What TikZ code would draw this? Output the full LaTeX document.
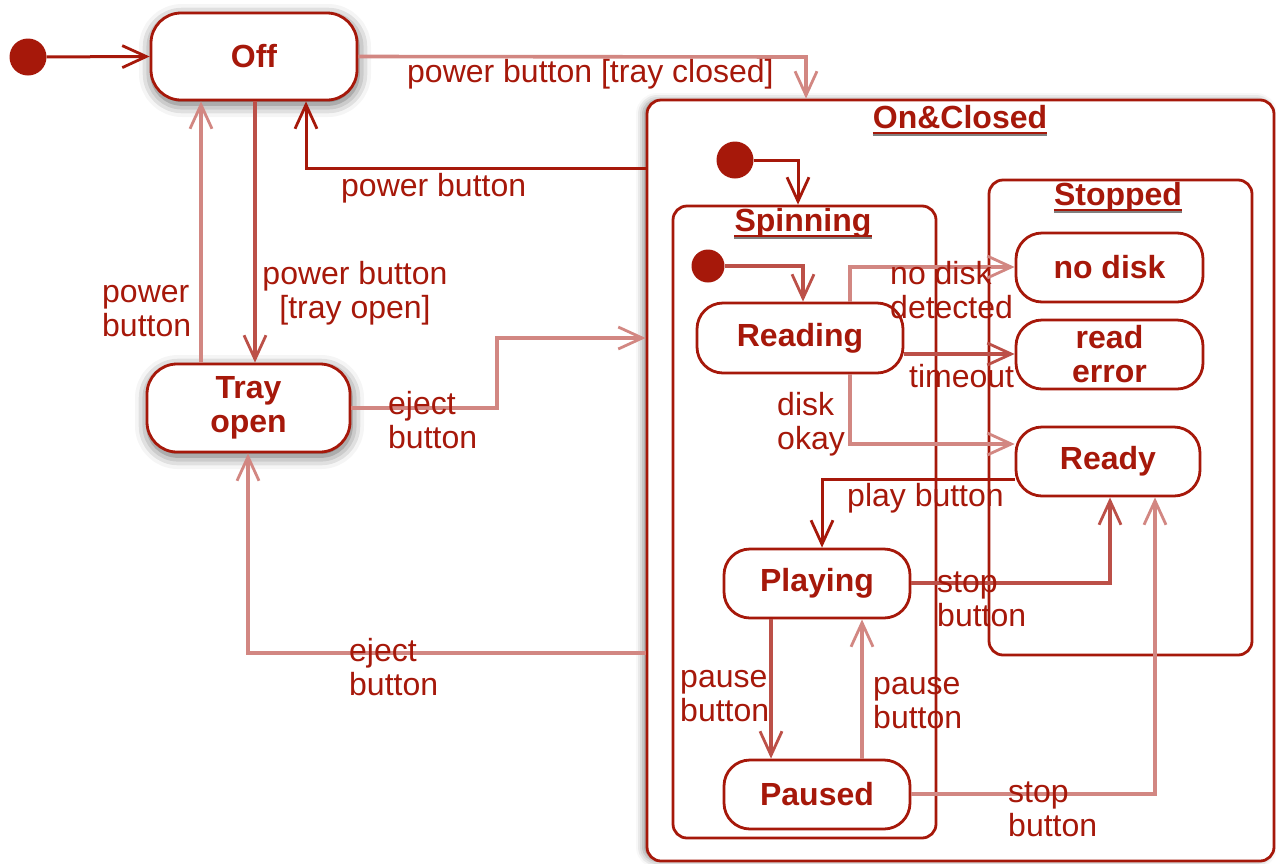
\documentclass[tikz,border=0pt]{standalone}
\usepackage{fontspec}
\setmainfont{Liberation Sans}
\usetikzlibrary{arrows.meta,shadows.blur}
\definecolor{dred}{RGB}{166,24,10}
\definecolor{lred}{RGB}{210,135,130}
\definecolor{mred}{RGB}{188,80,72}
\tikzset{
  every node/.style={font=\fontsize{32}{34}\selectfont},
  st/.style={draw=dred, line width=2.8pt, rounded corners=26pt, fill=white, text=dred,
    font=\fontsize{32}{34}\selectfont\bfseries, align=center, inner sep=0pt},
  comp/.style={draw=dred, line width=2.8pt, rounded corners=14pt, inner sep=0pt},
  ttl/.style={text=dred, font=\fontsize{32}{34}\selectfont\bfseries, inner sep=0pt},
  initd/.style={circle, fill=dred, draw=none, inner sep=0pt},
  lbl/.style={text=dred, align=left, anchor=west, inner sep=0pt},
  lblc/.style={text=dred, align=center, inner sep=0pt},
  tip/.style={-{Straight Barb[length=24pt,width=22pt,line width=2.8pt]}},
  dk/.style={tip, draw=dred, line width=3pt},
  md/.style={tip, draw=mred, line width=3.2pt},
  lt/.style={tip, draw=lred, line width=3.6pt},
  shad/.style={blur shadow={shadow xshift=1pt, shadow yshift=-4pt, shadow blur radius=13pt, shadow opacity=65}},
}
\begin{document}
\begin{tikzpicture}[x=1pt,y=-1pt]
\useasboundingbox (0,0) rectangle (1276,863);
% composite states
\node[comp, fill=white, blur shadow={shadow xshift=-4pt, shadow yshift=0pt, shadow blur radius=7pt, shadow opacity=45},
  minimum width=627pt, minimum height=761pt] (OnC) at (960.5,480.5) {};
\node[comp, minimum width=263pt, minimum height=632pt] (Spin) at (804.5,522) {};
\node[comp, minimum width=263pt, minimum height=475pt] (Stop) at (1120.5,417.5) {};
\node[ttl] (t1) at (960,117) {On\&Closed};
\node[ttl] (t2) at (803,223) {Spinning};
\node[ttl] (t3) at (1118,197) {Stopped};
\foreach \t in {t1,t2,t3}{
  \draw[gray, line width=2pt] ([yshift=-7pt]\t.base west) -- ([yshift=-7pt]\t.base east);
  \draw[dred, line width=2pt] ([yshift=-4.5pt]\t.base west) -- ([yshift=-4.5pt]\t.base east);
}
% simple states
\node[st, shad, rounded corners=30pt, minimum width=206pt, minimum height=87pt] (Off) at (254,56.5) {Off};
\node[st, shad, rounded corners=30pt, minimum width=203pt, minimum height=88pt] (Tray) at (248.5,408) {Tray\\open};
\node[st, minimum width=206pt, minimum height=70pt] (Read) at (800,338) {Reading};
\node[st, minimum width=187pt, minimum height=69pt] (NoD) at (1109.5,267.5) {no disk};
\node[st, minimum width=187pt, minimum height=69pt] (RErr) at (1109.5,354.5) {read\\error};
\node[st, minimum width=184pt, minimum height=69pt] (Ready) at (1108,461.5) {Ready};
\node[st, minimum width=186pt, minimum height=69pt] (Play) at (817,583.5) {Playing};
\node[st, minimum width=186pt, minimum height=69pt] (Paus) at (817,794.5) {Paused};
% initial states
\node[initd, minimum size=37pt] (i1) at (28,57) {};
\node[initd, minimum size=37pt] (i2) at (735,160) {};
\node[initd, minimum size=33pt] (i3) at (708,266) {};
% bend coordinates
\coordinate (k1) at (306,168);
\coordinate (k2) at (806,57);
\coordinate (k3) at (255,0);
\coordinate (k4) at (201,0);
\coordinate (k5) at (497,338);
\coordinate (k6) at (248,653);
\coordinate (k7) at (798,0);
\coordinate (k7b) at (803,0);
\coordinate (k8) at (850,267);
\coordinate (k9) at (0,354);
\coordinate (k10) at (850,444);
\coordinate (k11) at (822,479);
\coordinate (k12) at (1110,583);
\coordinate (k13) at (1155,794);
\coordinate (k14) at (771,0);
\coordinate (k15) at (862,0);
% transitions
\draw[dk] (i1) -- (Off.west);
\draw[lt] (Off.east) -- (k2) -- (OnC.north -| k2);
\draw[dk] (OnC.west |- k1) -- (k1) -- (Off.south -| k1);
\draw[md] (Off.south -| k3) -- (Tray.north -| k3);
\draw[lt] (Tray.north -| k4) -- (Off.south -| k4);
\draw[lt] (Tray.east) -| (k5) -- (OnC.west |- k5);
\draw[lt] (OnC.west |- k6) -- (k6) -- (Tray.south -| k6);
\draw[dk] (i2) -- (i2 -| k7) -- (Spin.north -| k7);
\draw[md] (i3) -- (i3 -| k7b) -- (Read.north -| k7b);
\draw[lt] (Read.north -| k8) -- (k8) -- (NoD.west |- k8);
\draw[md] (Read.east |- k9) -- (RErr.west |- k9);
\draw[lt] (Read.south -| k10) -- (k10) -- (Ready.west |- k10);
\draw[dk] (Ready.west |- k11) -- (k11) -- (Play.north -| k11);
\draw[md] (Play.east |- k12) -- (k12) -- (Ready.south -| k12);
\draw[lt] (Paus.east |- k13) -- (k13) -- (Ready.south -| k13);
\draw[md] (Play.south -| k14) -- (Paus.north -| k14);
\draw[lt] (Paus.north -| k15) -- (Play.south -| k15);
% labels
\node[lbl] (l1) at (407,74) {power button [tray closed]};
\node[lbl] (l2) at (341,188) {power button};
\node[lbl] (l3) at (102,311) {power\\button};
\node[lblc] (l4) at (355,293) {power button\\{[}tray open{]}};
\node[lbl] (l5) at (388,420) {eject\\button};
\node[lbl] (l6) at (349,667) {eject\\button};
\node[lbl] (l7) at (890,290) {no disk\\detected};
\node[lbl] (l8) at (909,376) {timeout};
\node[lbl] (l9) at (777,424) {disk\\okay};
\node[lbl] (l10) at (847,498) {play button};
\node[lbl] (l11) at (937,599) {stop\\button};
\node[lbl] (l12) at (1008,809) {stop\\button};
\node[lbl] (l13) at (680,696) {pause\\button};
\node[lbl] (l14) at (873,703) {pause\\button};
\end{tikzpicture}
\end{document}
